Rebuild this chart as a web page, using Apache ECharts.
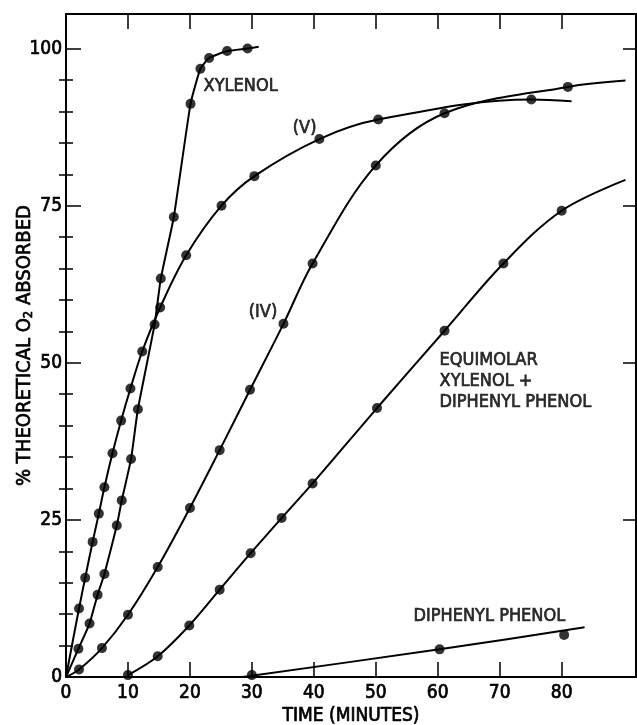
<!DOCTYPE html>
<html>
<head>
<meta charset="utf-8">
<script src="https://cdn.jsdelivr.net/npm/echarts@6/dist/echarts.min.js"></script>
<style>
html,body{margin:0;padding:0;background:#fff;}
#chart{width:637px;height:725px;}
</style>
</head>
<body>
<div id="chart"></div>
<script>
// ---- data (time in minutes, % theoretical O2 absorbed) ----
const xylenolT   = [2.0, 3.8, 5.1, 6.2, 8.2, 9.0, 10.5, 11.6, 14.3, 15.3, 17.4, 20.1, 21.7, 23.1, 26.0, 29.3];
const xylenolPct = [4.5, 8.5, 13.1, 16.4, 24.1, 28.1, 34.7, 42.6, 56.1, 63.4, 73.2, 91.2, 96.8, 98.5, 99.6, 100.0];
const xylenolEnds = [[0, 0], [31.1, 100.3]];

const vT   = [2.1, 3.1, 4.3, 5.3, 6.2, 7.5, 8.9, 10.4, 12.3, 15.2, 19.4, 25.1, 30.4, 40.9, 50.4, 75.1];
const vPct = [10.9, 15.8, 21.5, 26.0, 30.2, 35.6, 40.8, 45.9, 51.8, 58.8, 67.1, 75.0, 79.7, 85.6, 88.7, 91.9];
const vEnds = [[0, 0], [81.6, 91.6]];

const ivT   = [2.1, 5.8, 10.0, 14.8, 20.0, 24.8, 29.7, 35.1, 39.8, 50.0, 61.1, 81.0];
const ivPct = [1.2, 4.6, 9.9, 17.5, 26.9, 36.1, 45.7, 56.2, 65.8, 81.4, 89.7, 93.9];
const ivEnds = [[0, 0], [90.3, 94.9]];

const equiT   = [10.0, 14.8, 19.9, 24.8, 29.8, 34.8, 39.8, 50.2, 61.1, 70.6, 80.0];
const equiPct = [0.3, 3.3, 8.2, 13.9, 19.7, 25.3, 30.8, 42.8, 55.1, 65.8, 74.2];
const equiEnds = [[10.0, 0.3], [90.3, 79.1]];

const diphT   = [30.0, 60.3, 80.4];
const diphPct = [0.3, 4.4, 6.7];
const diphLineT   = [28.5, 60.3, 83.7];
const diphLinePct = [0.0, 4.4, 7.9];

const xTickLabels = [0, 10, 20, 30, 40, 50, 60, 70, 80];
const xTicks = [10, 20, 30, 40, 50, 60, 70, 80];
const yMajor = [0, 25, 50, 75, 100];
const yMinor = [5, 10, 15, 20, 30, 35, 40, 45, 55, 60, 65, 70, 80, 85, 90, 95];

const notes = [
  { text: 'XYLENOL', x: 22.2, y: 94.0 },
  { text: '(V)', x: 36.6, y: 87.3 },
  { text: '(IV)', x: 29.5, y: 58.0 },
  { text: 'EQUIMOLAR\nXYLENOL +\nDIPHENYL PHENOL', x: 60.3, y: 47.1 },
  { text: 'DIPHENYL PHENOL', x: 56.1, y: 9.6 }
];

// ---- build ----
const FONT = "'DejaVu Sans Condensed','Liberation Sans Narrow','Liberation Sans',sans-serif";
const INK = '#000';
const thick = { textBorderColor: INK, textBorderWidth: 0.7 };

function pairs(xs, ys) { return xs.map((x, i) => [x, ys[i]]); }
function withEnds(xs, ys, ends) {
  const p = pairs(xs, ys);
  const out = [];
  if (!(ends[0][0] === p[0][0] && ends[0][1] === p[0][1])) out.push(ends[0]);
  return out.concat(p, [ends[1]]);
}

const curves = [
  { pts: pairs(xylenolT, xylenolPct), line: withEnds(xylenolT, xylenolPct, xylenolEnds), smooth: 0.15 },
  { pts: pairs(vT, vPct), line: withEnds(vT, vPct, vEnds), smooth: 0.35 },
  { pts: pairs(ivT, ivPct), line: withEnds(ivT, ivPct, ivEnds), smooth: 0.35 },
  { pts: pairs(equiT, equiPct), line: withEnds(equiT, equiPct, equiEnds), smooth: 0.35 },
  { pts: pairs(diphT, diphPct), line: pairs(diphLineT, diphLinePct), smooth: 0.2 }
];

const series = [];
curves.forEach(c => {
  series.push({
    type: 'line', data: c.line, showSymbol: false, smooth: c.smooth,
    lineStyle: { color: INK, width: 2 }, silent: true, animation: false, z: 2
  });
  series.push({
    type: 'scatter', data: c.pts, symbol: 'circle', symbolSize: 10,
    itemStyle: { color: INK }, silent: true, animation: false, z: 3
  });
});
series.push({
  type: 'scatter', symbolSize: 0, animation: false, silent: true, z: 4,
  data: notes.map(n => ({ value: [n.x, n.y], name: n.text })),
  label: Object.assign({
    show: true, position: 'inside', align: 'left', verticalAlign: 'middle',
    formatter: p => p.name, color: INK, fontFamily: FONT, fontSize: 18, lineHeight: 21
  }, thick)
});

const axisLine = { show: true, onZero: false, lineStyle: { color: INK, width: 2 } };
const labelStyle = Object.assign({ color: INK, fontFamily: FONT, fontSize: 19 }, thick);

const option = {
  backgroundColor: '#fff',
  animation: false,
  grid: { left: 66, right: 1, top: 14, bottom: 48, containLabel: false, outerBoundsMode: 'none' },
  xAxis: [
    {
      type: 'value', position: 'bottom', min: 0, max: 92, interval: 10,
      axisLine: axisLine,
      axisTick: { show: true, inside: true, length: 15, customValues: xTicks, lineStyle: { color: INK, width: 1.5 } },
      axisLabel: Object.assign({ customValues: xTickLabels, margin: 7 }, labelStyle),
      splitLine: { show: false },
      name: 'TIME (MINUTES)', nameLocation: 'middle', nameGap: 30, nameMoveOverlap: false,
      nameTextStyle: Object.assign({ color: INK, fontFamily: FONT, fontSize: 19, verticalAlign: 'top' }, thick)
    },
    {
      type: 'value', position: 'top', min: 0, max: 92, interval: 10,
      axisLine: axisLine,
      axisTick: { show: true, inside: true, length: 15, customValues: xTicks, lineStyle: { color: INK, width: 1.5 } },
      axisLabel: { show: false }, splitLine: { show: false }
    }
  ],
  yAxis: [
    {
      type: 'value', position: 'left', min: 0, max: 105.5, interval: 25,
      axisLine: axisLine,
      axisTick: { show: true, inside: true, length: 15, customValues: yMajor, lineStyle: { color: INK, width: 1.5 } },
      axisLabel: Object.assign({ customValues: yMajor, margin: 4 }, labelStyle),
      splitLine: { show: false },
      name: '% THEORETICAL O{sub|2} ABSORBED', nameLocation: 'middle', nameGap: 31, nameRotate: 90,
      nameMoveOverlap: false,
      nameTextStyle: Object.assign({
        color: INK, fontFamily: FONT, fontSize: 20, verticalAlign: 'bottom',
        rich: { sub: Object.assign({ fontFamily: FONT, fontSize: 13, color: INK, padding: [8, 0, 0, 0] }, thick) }
      }, thick)
    },
    {
      type: 'value', position: 'left', min: 0, max: 105.5, interval: 5,
      axisLine: { show: false },
      axisTick: { show: true, inside: true, length: 7, customValues: yMinor, lineStyle: { color: INK, width: 1.5 } },
      axisLabel: { show: false }, splitLine: { show: false }
    },
    {
      type: 'value', position: 'right', min: 0, max: 105.5, interval: 25,
      axisLine: axisLine,
      axisTick: { show: true, inside: true, length: 13, customValues: yMajor, lineStyle: { color: INK, width: 1.5 } },
      axisLabel: { show: false }, splitLine: { show: false }
    },
    {
      type: 'value', position: 'right', min: 0, max: 105.5, interval: 5,
      axisLine: { show: false },
      axisTick: { show: true, inside: true, length: 7, customValues: yMinor, lineStyle: { color: INK, width: 1.5 } },
      axisLabel: { show: false }, splitLine: { show: false }
    }
  ],
  series: series
};

const chart = echarts.init(document.getElementById('chart'), null, { renderer: 'canvas' });
chart.setOption(option);
</script>
</body>
</html>
